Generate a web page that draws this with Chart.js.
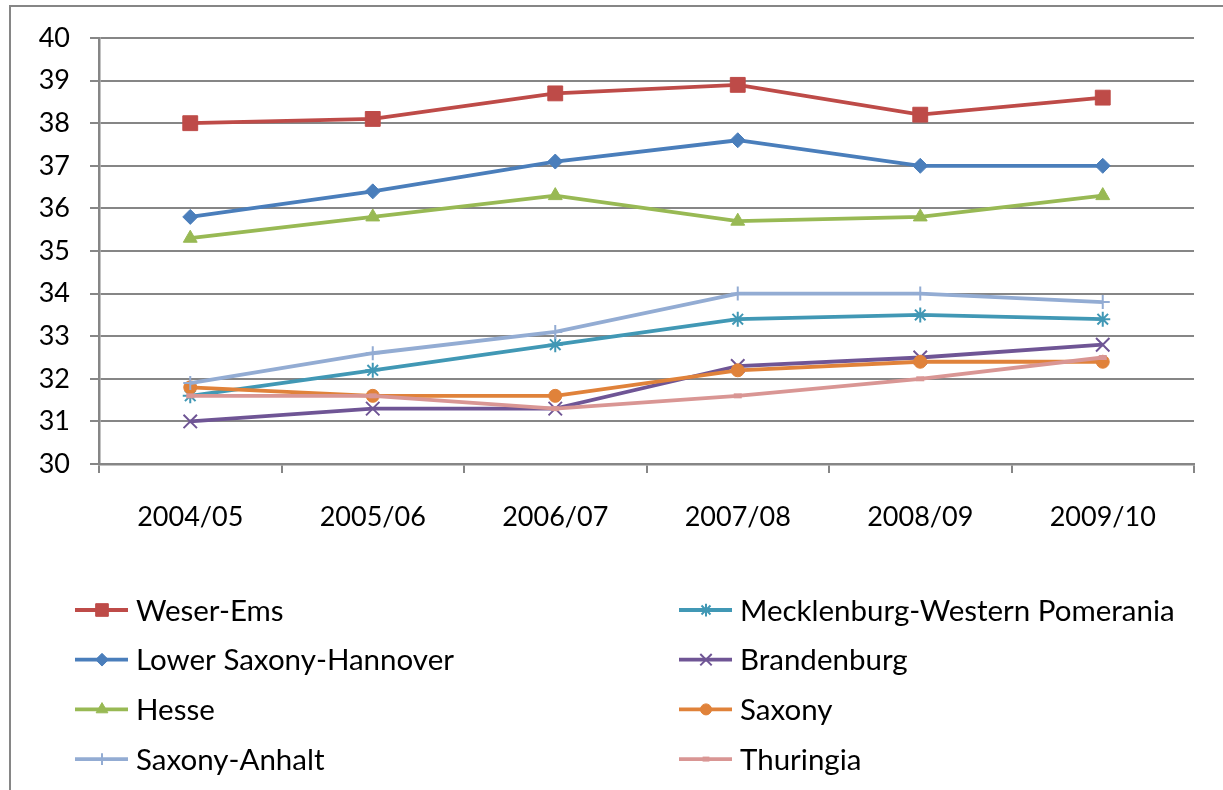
<!DOCTYPE html>
<html>
<head>
<meta charset="utf-8">
<script src="https://cdn.jsdelivr.net/npm/chart.js@4/dist/chart.umd.min.js"></script>
<style>
  html, body { margin: 0; padding: 0; background: #fff; }
  #wrap { width: 1223px; height: 790px; }
</style>
</head>
<body>
<div id="wrap"><canvas id="chart" width="1223" height="790"></canvas></div>
<script>
// Data
const years = ['2004/05', '2005/06', '2006/07', '2007/08', '2008/09', '2009/10'];
const weserEms = [38.0, 38.1, 38.7, 38.9, 38.2, 38.6];
const mecklenburg = [31.6, 32.2, 32.8, 33.4, 33.5, 33.4];
const lowerSaxony = [35.8, 36.4, 37.1, 37.6, 37.0, 37.0];
const brandenburg = [31.0, 31.3, 31.3, 32.3, 32.5, 32.8];
const hesse = [35.3, 35.8, 36.3, 35.7, 35.8, 36.3];
const saxony = [31.8, 31.6, 31.6, 32.2, 32.4, 32.4];
const saxonyAnhalt = [31.9, 32.6, 33.1, 34.0, 34.0, 33.8];
const thuringia = [31.6, 31.6, 31.3, 31.6, 32.0, 32.5];

const FONT = 'Lato, "Open Sans", sans-serif';
const GREY = '#868686';

function series(label, data, color, style, radius, bw) {
  return {
    label: label,
    data: data,
    borderColor: color,
    backgroundColor: color,
    pointBackgroundColor: color,
    pointBorderColor: color,
    borderWidth: 3.8,
    pointStyle: style,
    pointRadius: radius,
    pointHoverRadius: radius,
    pointBorderWidth: bw,
    tension: 0,
    fill: false
  };
}

const datasets = [
  series('Weser-Ems', weserEms, '#BE4B48', 'rect', 10.5, 1),
  series('Mecklenburg-Western Pomerania', mecklenburg, '#4198B5', 'star', 7.5, 2),
  series('Lower Saxony-Hannover', lowerSaxony, '#4A7EBB', 'rectRot', 7.5, 1),
  series('Brandenburg', brandenburg, '#6F5595', 'crossRot', 9.5, 2),
  series('Hesse', hesse, '#98B954', 'triangle', 8, 1),
  series('Saxony', saxony, '#E0823A', 'circle', 6.5, 1),
  series('Saxony-Anhalt', saxonyAnhalt, '#93ACD3', 'cross', 7, 2),
  series('Thuringia', thuringia, '#D99694', 'line', 4, 5)
];
// later series sit on top, as in the original
datasets.forEach((d, i) => { d.order = datasets.length - i; });

// Frame round the whole chart and the two-column legend
const frameAndLegend = {
  id: 'frameAndLegend',
  beforeDraw(chart) {
    const ctx = chart.ctx;
    ctx.save();
    ctx.strokeStyle = GREY;
    ctx.lineWidth = 2;
    ctx.strokeRect(10, 6, 1400, 1000);
    ctx.restore();
  },
  afterDraw(chart) {
    const ctx = chart.ctx;
    const colX = [75, 679];
    chart.data.datasets.forEach((d, i) => {
      const x = colX[i % 2];
      const y = 610 + Math.floor(i / 2) * 49.7;
      ctx.save();
      ctx.strokeStyle = d.borderColor;
      ctx.fillStyle = d.borderColor;
      ctx.lineWidth = 3.8;
      ctx.beginPath();
      ctx.moveTo(x, y);
      ctx.lineTo(x + 53, y);
      ctx.stroke();
      ctx.lineWidth = d.pointBorderWidth;
      Chart.helpers.drawPoint(ctx, {
        pointStyle: d.pointStyle,
        radius: d.pointRadius * 0.85,
        rotation: 0,
        borderWidth: d.pointBorderWidth
      }, x + 27, y);
      ctx.fillStyle = '#000';
      ctx.font = '29.5px ' + FONT;
      ctx.textBaseline = 'middle';
      ctx.textAlign = 'left';
      ctx.fillText(d.label, x + 61, y + 1);
      ctx.restore();
    });
  }
};

new Chart(document.getElementById('chart'), {
  type: 'line',
  data: { labels: years, datasets: datasets },
  plugins: [frameAndLegend],
  options: {
    responsive: false,
    animation: false,
    layout: { padding: { left: 0, top: 38, right: 29, bottom: 0 } },
    plugins: {
      legend: { display: false },
      tooltip: { enabled: false }
    },
    scales: {
      x: {
        offset: true,
        grid: { offset: true, drawOnChartArea: false, drawTicks: true, tickLength: 9, color: GREY, lineWidth: 2 },
        border: { color: GREY, width: 2.5 },
        ticks: { color: '#000', font: { family: FONT, size: 27 }, padding: 28, maxRotation: 0 },
        afterFit(scale) { scale.height = 790 - 464; }
      },
      y: {
        min: 30,
        max: 40,
        ticks: { stepSize: 1, color: '#000', font: { family: FONT, size: 27 }, padding: 20 },
        grid: { color: GREY, lineWidth: 2, tickLength: 9 },
        border: { color: GREY, width: 2.5 },
        afterFit(scale) { scale.width = 99; }
      }
    }
  }
});
</script>
</body>
</html>
